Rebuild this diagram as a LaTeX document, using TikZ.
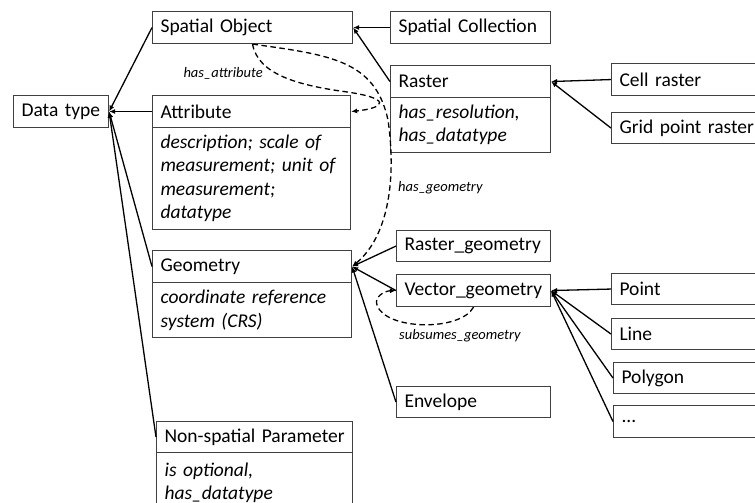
\documentclass[tikz,border=0pt]{standalone}
\usepackage{fontspec}
\setmainfont{Carlito}
\usetikzlibrary{arrows.meta}
\begin{document}
\begin{tikzpicture}[x=1pt,y=-1pt,
  every node/.style={font=\fontsize{19.5}{23.5}\selectfont},
  box/.style={draw=black!75, line width=1.1pt, anchor=north west, inner xsep=8pt, inner ysep=0pt, align=left},
  body/.style={box, font=\fontsize{19.5}{23.5}\selectfont\itshape},
  conn/.style={line width=1.3pt, -{Latex[length=6pt,width=5pt]}},
  rel/.style={line width=1.3pt, dash pattern=on 5.5pt off 3.5pt},
  reltip/.style={rel, -{Latex[length=6pt,width=5pt]}},
  lbl/.style={font=\fontsize{14.5}{16}\selectfont\itshape, inner sep=0pt}]
\clip (0,0) rectangle (755,503);
% left column
\node[box, text width=79pt, minimum height=32pt] (dt) at (13,95) {Data type};
% middle column
\node[box, text width=184pt, minimum height=32pt] (so) at (152,11) {Spatial Object};
\node[box, text width=182pt, minimum height=32pt] (at) at (152,95) {Attribute};
\node[body, text width=182pt, minimum height=102pt] (atb) at (152,127) {description; scale of\\measurement; unit of\\measurement;\\datatype};
\node[box, text width=183pt, minimum height=32pt] (ge) at (152,250) {Geometry};
\node[body, text width=183pt, minimum height=55pt] (geb) at (152,282) {coordinate reference\\system (CRS)};
\node[box, text width=180pt, minimum height=31pt] (ns) at (156,421) {\mbox{Non-spatial Parameter}};
\node[body, text width=180pt, minimum height=60pt] (nsb) at (156,452) {is optional,\\has\_datatype};
% third column
\node[box, text width=144pt, minimum height=32pt] (sc) at (390,11) {Spatial Collection};
\node[box, text width=144pt, minimum height=32pt] (ra) at (390,65) {Raster};
\node[body, text width=144pt, minimum height=55pt] (rab) at (390,97) {has\_resolution,\\has\_datatype};
\node[box, text width=138pt, minimum height=31pt] (rg) at (396,230) {Raster\_geometry};
\node[box, text width=138pt, minimum height=32pt] (vg) at (396,274) {Vector\_geometry};
\node[box, text width=138pt, minimum height=31pt] (en) at (396,386) {Envelope};
% right column
\node[box, text width=184pt, minimum height=32pt] (cr) at (611,63) {Cell raster};
\node[box, text width=184pt, minimum height=31pt] (gp) at (611,112) {\mbox{Grid point raster}};
\node[box, text width=184pt, minimum height=31pt] (pt) at (611,273) {Point};
\node[box, text width=184pt, minimum height=31pt] (li) at (611,318) {Line};
\node[box, text width=184pt, minimum height=31pt] (pg) at (613,362) {Polygon};
\node[box, text width=184pt, minimum height=32pt] (dd) at (613,405) {...};
% solid connectors
\draw[conn] (so.west) -- (dt.east);
\draw[conn] (at.west) -- (dt.east);
\draw[conn] (ge.west) -- (dt.east);
\draw[conn] (ns.west) -- (dt.east);
\draw[conn] (sc.west) -- (so.east);
\draw[conn] (ra.west) -- (so.east);
\draw[conn] (cr.west) -- (ra.east);
\draw[conn] (gp.west) -- (ra.east);
\draw[conn] (rg.west) -- (ge.east);
\draw[conn] (vg.west) -- (ge.east);
\draw[conn] (en.west) -- (ge.east);
\draw[conn] (pt.west) -- (vg.east);
\draw[conn] (li.west) -- (vg.east);
\draw[conn] (pg.west) -- (vg.east);
\draw[conn] (dd.west) -- (vg.east);
% dashed relations
\draw[reltip] (so.south) .. controls (258,75) and (300,85) .. (340,91)
  .. controls (395,98) and (385,108) .. (at.east);
\draw[reltip] (so.south) .. controls (330,55) and (375,60) .. (388,120)
  .. controls (396,175) and (390,235) .. (ge.east);
\draw[reltip] (vg.south) .. controls (460,332) and (385,330) .. (377,305)
  .. controls (374,297) and (384,291) .. (vg.west);
% labels
\node[lbl, anchor=east] (la) at (263,73) {has\_attribute};
\node[lbl, anchor=west] (lg) at (398,188) {has\_geometry};
\node[lbl, anchor=west] (ls) at (399,336) {subsumes\_geometry};
\end{tikzpicture}
\end{document}
